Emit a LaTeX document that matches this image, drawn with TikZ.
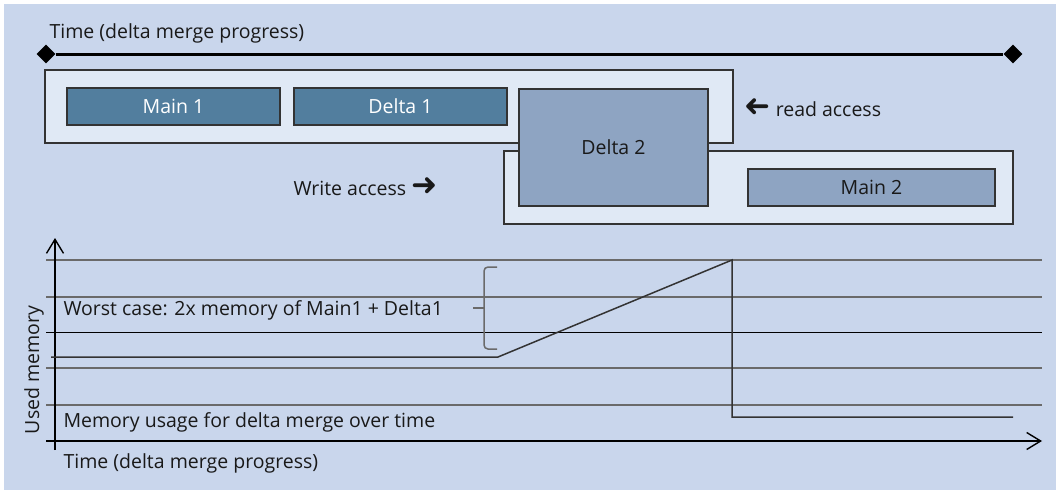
\documentclass[tikz,border=0pt]{standalone}
\usepackage{fontspec}
\setmainfont{Open Sans}
\newfontfamily\arrowfont{DejaVu Sans}
\usepackage{tikz}
\usetikzlibrary{arrows.meta,positioning,shapes.geometric}

\definecolor{bgblue}{HTML}{C9D6EC}
\definecolor{panel}{HTML}{E0E9F5}
\definecolor{darkbox}{HTML}{527E9E}
\definecolor{lightbox}{HTML}{8EA4C2}
\definecolor{edge}{HTML}{333333}
\definecolor{grid}{HTML}{6A6A6A}
\newcommand{\heavyarrow}{\raisebox{-0.5pt}{\scalebox{1.6}{\arrowfont\bfseries ➜}}}

\begin{document}
\begin{tikzpicture}[x=1pt,y=-1pt,
  every node/.style={font=\fontsize{19.5}{23}\selectfont,text=black!90},
  phase/.style={draw=edge,line width=1.5pt,fill=panel,inner sep=0pt,outer sep=0pt},
  store/.style={phase,fill=darkbox,text=white},
  newstore/.style={phase,fill=lightbox},
  tick/.style={diamond,fill=black,inner sep=0pt,minimum size=19pt},
  gridline/.style={grid,line width=1.4pt},
  axis/.style={line width=1.4pt,-{Straight Barb[length=14pt,width=17pt]}}]
  \useasboundingbox (0,0) rectangle (1056,490);
  \fill[white] (0,0) rectangle (1056,490);
  \fill[bgblue] (4,4) rectangle (1056,490);

  \node[anchor=west] (ttop) at (46,33) {Time (delta merge progress)};
  \node[tick] (tstart) at (46,54) {};
  \node[tick] (tend) at (1013,54) {};
  \draw[line width=3pt] (tstart) -- (tend);

  \node[phase,minimum width=688pt,minimum height=73pt] (phase1) at (389,106.5) {};
  \node[phase,minimum width=509pt,minimum height=73pt] (phase2) at (758.5,187.5) {};
  \node[store,minimum width=213pt,minimum height=37pt] (main1) at (173.5,106.5) {Main 1};
  \node[store,minimum width=213pt,minimum height=37pt,right=14pt of main1] (delta1) {Delta 1};
  \node[newstore,minimum width=189pt,minimum height=117pt] (delta2) at (613.5,147.5) {Delta 2};
  \node[newstore,minimum width=247pt,minimum height=37pt] (main2) at (871.5,187.5) {Main 2};
  \node[anchor=west] (read) at (741,108) {\reflectbox{\heavyarrow} read access};
  \node[anchor=west] (write) at (290,187) {Write access \heavyarrow};

  \foreach \y in {260,297,368,405}
    \draw[gridline] (46,\y) -- (1042,\y);
  \draw[black,line width=1pt] (46,332) -- (1042,332);
  \draw[axis] (55,450) -- (55,238);
  \draw[axis] (46,441) -- (1042,441);
  \coordinate (flat) at (51,357);
  \coordinate (rise) at (498,357);
  \coordinate (peak) at (732,260);
  \coordinate (drop) at (732,417);
  \coordinate (rest) at (1013,417);
  \draw[edge,line width=1.5pt] (flat) -- (rise) -- (peak) -- (drop) -- (rest);
  \coordinate (bracetop) at (497,267);
  \coordinate (bracebot) at (497,349);
  \coordinate (bracetip) at (473,308);
  \draw[grid,line width=1.5pt,rounded corners=4pt] (bracetop) -| (484,308) |- (bracebot);
  \draw[grid,line width=1.5pt] (bracetip) -- (484,308);

  \node[anchor=west] (worst) at (60,310) {Worst case: 2x memory of Main1 + Delta1};
  \node[anchor=west] (usage) at (60,422) {Memory usage for delta merge over time};
  \node[anchor=west] (tbot) at (60,463) {Time (delta merge progress)};
  \node[rotate=90] (used) at (34,370) {Used memory};
\end{tikzpicture}
\end{document}
